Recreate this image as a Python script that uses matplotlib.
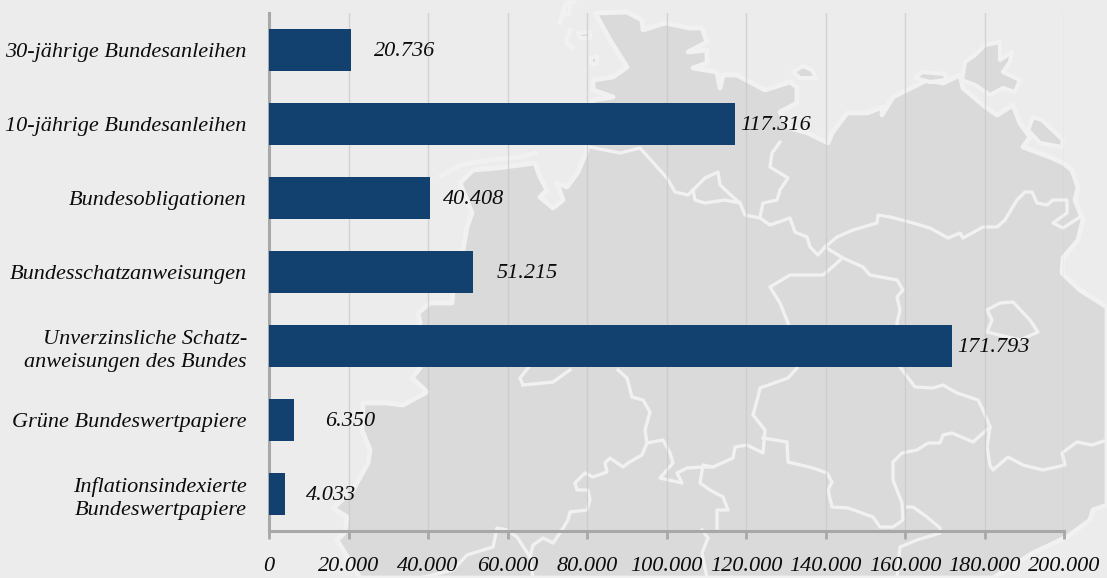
import matplotlib
matplotlib.use('Agg')
import matplotlib.pyplot as plt

categories = [
    '30-jährige Bundesanleihen',
    '10-jährige Bundesanleihen',
    'Bundesobligationen',
    'Bundesschatzanweisungen',
    'Unverzinsliche Schatz-\nanweisungen des Bundes',
    'Grüne Bundeswertpapiere',
    'Inflationsindexierte\nBundeswertpapiere',
]
values = [20736, 117316, 40408, 51215, 171793, 6350, 4033]
value_labels = ['20.736', '117.316', '40.408', '51.215', '171.793', '6.350', '4.033']
x_ticks = [0, 20000, 40000, 60000, 80000, 100000, 120000, 140000, 160000, 180000, 200000]
x_tick_labels = ['0', '20.000', '40.000', '60.000', '80.000', '100.000', '120.000',
                 '140.000', '160.000', '180.000', '200.000']

# gap between bar end and its label, pixels
label_gaps = [23, 5, 13, 24, 5, 31, 21]

BG = '#ececec'
LAND = '#dadada'
HALO = '#f1f1f1'
BAR = '#124170'
AXIS = '#a8a8a8'
GRID = '#c8c8c8'
TEXT = '#0c0c0c'
FONT = 'Liberation Serif'
FONT_SIZE = 16

# background map of Germany, traced in image pixels
map_outline = [
    (595, 13), (627, 12), (642, 20), (643, 30), (665, 23), (690, 28), (702, 28), (707, 42),
    (688, 52), (707, 50), (707, 63), (693, 68), (717, 72), (720, 88), (723, 75), (737, 75),
    (765, 90), (790, 82), (797, 87), (797, 103), (780, 112), (790, 128), (808, 133), (828, 143),
    (832, 133), (847, 113), (867, 113), (883, 107), (882, 115), (893, 97), (913, 87), (927, 80),
    (943, 83), (960, 75), (963, 88), (983, 105), (997, 115), (1013, 105), (1020, 123), (1030, 137),
    (1023, 147), (1050, 157), (1063, 163), (1072, 170), (1078, 187), (1075, 200), (1083, 220),
    (1078, 240), (1063, 258), (1062, 273), (1080, 290), (1107, 307), (1107, 505), (1093, 510),
    (1090, 520), (1067, 537), (1033, 553), (993, 578), (360, 578), (337, 540), (345, 532),
    (347, 517), (333, 508), (353, 490), (368, 463), (370, 450), (362, 430), (363, 403), (387, 403),
    (403, 405), (427, 392), (412, 378), (420, 368), (420, 323), (418, 313), (430, 303), (452, 303),
    (453, 290), (463, 250), (467, 227), (472, 213), (460, 183), (473, 170), (497, 168), (535, 163),
    (540, 177), (547, 190), (540, 197), (553, 208), (563, 200), (557, 183), (567, 187), (578, 172),
    (587, 150), (593, 100), (613, 97), (593, 90), (593, 80), (613, 77), (627, 67), (610, 40),
]

map_borders = [
    [(590, 147), (620, 153), (640, 148), (667, 178), (675, 192), (688, 195), (693, 190)],
    [(693, 190), (705, 178), (718, 172), (720, 185), (733, 197), (740, 203), (725, 200), (705, 203),
     (695, 200), (693, 190)],
    [(740, 203), (745, 215), (760, 218), (770, 225), (790, 218), (795, 232), (807, 237), (810, 247),
     (818, 255), (825, 247)],
    [(780, 142), (772, 153), (770, 167), (788, 178), (780, 190), (777, 200), (763, 203), (760, 217)],
    [(825, 247), (837, 237), (853, 230), (877, 223), (878, 215), (890, 217), (913, 223), (930, 228),
     (948, 238), (960, 233), (963, 238), (983, 227), (997, 227), (1005, 220), (1017, 200), (1025, 192),
     (1032, 192), (1037, 203), (1047, 205), (1053, 200), (1067, 200), (1067, 213), (1053, 223),
     (1063, 228), (1080, 217)],
    [(825, 247), (843, 258), (863, 267), (870, 275), (897, 280), (903, 290), (897, 297), (900, 310),
     (897, 323), (900, 367), (915, 387), (933, 388), (943, 385), (957, 393), (978, 400), (983, 410),
     (990, 427), (973, 442), (952, 433), (943, 435), (940, 443), (928, 443), (917, 450), (902, 453),
     (893, 462), (893, 480), (902, 503), (903, 520), (893, 527), (880, 527), (873, 517), (848, 508),
     (832, 507), (828, 490), (832, 482), (827, 473), (813, 468), (788, 462), (787, 442), (763, 438)],
    [(842, 258), (837, 263), (823, 275), (790, 275), (770, 287), (780, 303), (788, 323), (797, 368),
     (788, 378), (760, 388), (758, 397), (753, 415), (765, 430), (763, 453), (747, 445), (735, 447),
     (733, 458), (713, 467), (703, 465), (700, 483), (710, 490), (723, 497), (728, 510), (717, 510),
     (717, 528)],
    [(990, 427), (987, 447), (990, 465), (993, 470), (1008, 457), (1023, 465), (1043, 470), (1065, 465),
     (1062, 453), (1077, 442), (1092, 445), (1107, 440)],
    [(987, 310), (1000, 303), (1013, 302), (1030, 320), (1038, 332), (1020, 340), (987, 332), (992, 320),
     (987, 310)],
    [(523, 385), (520, 378), (528, 368)],
    [(523, 385), (553, 382), (570, 370)],
    [(618, 370), (627, 378), (632, 397), (643, 400), (650, 412), (645, 430), (647, 443), (663, 440),
     (670, 453), (673, 463), (660, 478), (682, 483), (677, 473), (687, 468), (703, 467), (713, 467)],
    [(647, 443), (642, 455), (628, 463), (623, 467), (610, 458), (605, 463), (607, 472), (593, 477),
     (585, 473), (575, 483), (577, 490), (588, 490), (590, 500), (587, 510), (570, 512), (568, 520),
     (560, 533), (553, 543), (543, 538), (533, 545), (530, 557), (517, 537), (507, 530), (497, 528),
     (493, 547), (467, 555), (453, 570), (420, 578)],
    [(530, 557), (533, 578)],
    [(702, 530), (708, 538), (702, 553), (707, 578)],
    [(897, 578), (900, 547), (917, 540), (940, 533), (940, 528), (927, 517), (913, 507), (907, 507)],
]

map_islands = [
    [(565, 6), (570, 5), (569, 14), (565, 14)],
    [(578, 33), (590, 32), (590, 38), (580, 38)],
    [(590, 58), (597, 56), (597, 64), (592, 64)],
    [(793, 72), (803, 66), (812, 70), (816, 78), (800, 78)],
    [(915, 78), (922, 72), (945, 74), (946, 80), (930, 82)],
    [(985, 45), (1000, 42), (1000, 60), (1012, 52), (1010, 62), (1003, 72), (1020, 80), (1015, 92),
     (1003, 88), (990, 95), (975, 85), (962, 80), (965, 62), (975, 55)],
    [(1033, 117), (1042, 120), (1063, 140), (1062, 147), (1040, 143), (1028, 130)],
]
map_sandbanks = [
    [(441, 176), (460, 165), (490, 160), (520, 157), (535, 153)],
    [(560, 22), (566, 3), (574, 2)],
    [(570, 30), (566, 42), (572, 48)],
]

fig = plt.figure(figsize=(11.07, 5.78), dpi=100, facecolor=BG)

bg_ax = fig.add_axes([0, 0, 1, 1], zorder=0)
bg_ax.set_xlim(0, 1107)
bg_ax.set_ylim(578, 0)
bg_ax.axis('off')
bg_ax.fill(*zip(*map_outline), facecolor=LAND, edgecolor=HALO, linewidth=3.5, joinstyle='round')
for line in map_borders:
    bg_ax.plot(*zip(*line), color=HALO, linewidth=2.4, solid_joinstyle='round')
for island in map_islands:
    bg_ax.fill(*zip(*island), facecolor=LAND, edgecolor=HALO, linewidth=3, joinstyle='round')
for line in map_sandbanks:
    bg_ax.plot(*zip(*line), color=HALO, linewidth=3.5, solid_joinstyle='round')

ax = fig.add_axes([269 / 1107, 1 - 531 / 578, 795 / 1107, 518 / 578], zorder=1)
ax.patch.set_alpha(0)

positions = range(len(categories))
ax.barh(positions, values, height=0.57, color=BAR, zorder=3)
ax.set_ylim(len(categories) - 0.5, -0.5)
ax.set_xlim(0, 200000)

ax.set_yticks(list(positions))
ax.set_yticklabels(categories, family=FONT, style='italic', fontsize=FONT_SIZE, color=TEXT,
                   linespacing=1.3)
ax.set_xticks(x_ticks)
ax.set_xticklabels(x_tick_labels, family=FONT, style='italic', fontsize=FONT_SIZE, color=TEXT)
ax.tick_params(axis='y', length=0, pad=16)
ax.tick_params(axis='x', length=6, width=2, color=AXIS, pad=13)

ax.grid(axis='x', color=GRID, linewidth=1, alpha=0.7, zorder=1)
ax.set_axisbelow(True)

for side in ['top', 'right']:
    ax.spines[side].set_visible(False)
for side in ['left', 'bottom']:
    ax.spines[side].set_color(AXIS)
    ax.spines[side].set_linewidth(2.2)

for i, value in enumerate(values):
    ax.annotate(value_labels[i], (value, i), xytext=(label_gaps[i] * 0.72, -1.2),
                textcoords='offset points', va='center', ha='left',
                family=FONT, style='italic', fontsize=FONT_SIZE, color=TEXT, zorder=4)

fig.savefig('out.png', dpi=100, facecolor=BG)
